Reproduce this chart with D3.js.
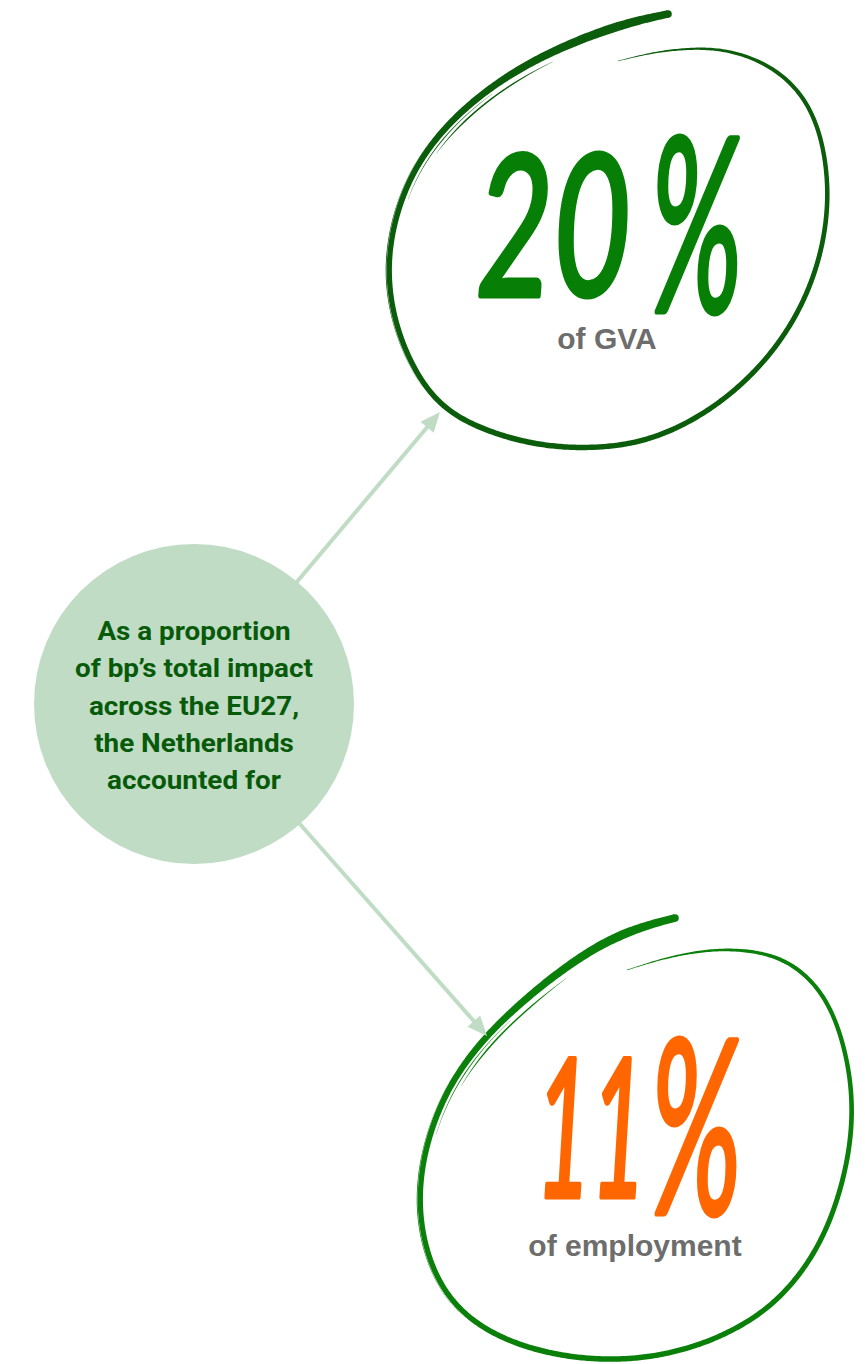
<!DOCTYPE html>
<html><head><meta charset="utf-8">
<script src="https://cdn.jsdelivr.net/npm/d3@7"></script>
<style>html,body{margin:0;padding:0;background:#fff;} svg{display:block}</style>
</head><body>
<svg id="c" width="865" height="1364"></svg>
<script>
// ---- data ----
const shares = [20, 11];
const shareLabels = ["of GVA", "of employment"];
const introLines = ["As a proportion", "of bp\u2019s total impact", "across the EU27,", "the Netherlands", "accounted for"];
const numberColors = ["#077f07", "#ff6600"];
const loopColors = ["#0b5c0b", "#0a7f0a"];

// ---- layout (decoration geometry) ----
const loops = [
  { pts: [[618,61],[650,53],[680,49],[713,48],[747,55],[780,72],[805,98],[820,132],[827,170],[828,208],[822,250],[808,293],[786,334],[755,373],[713,409],[663,436],[613,448],[550,448],[492,434],[442,410],[412,368],[393,318],[387,267],[395,215],[415,166],[446,125],[486,90],[530,62],[580,39],[630,22],[668,14]],
    digits: { x0: 476, x1: 631, top: 155, base: 296 },
    pct: { x0: 650, x1: 743, top: 137, base: 312 },
    label: { x: 607, y: 349 } },
  { pts: [[627,970],[667,957],[717,948],[767,952],[801,969],[827,999],[843,1040],[852,1087],[852,1134],[843,1183],[826,1233],[799,1278],[760,1317],[700,1347],[633,1361],[567,1358],[510,1343],[466,1318],[437,1282],[421,1233],[419,1183],[429,1133],[450,1083],[482,1040],[517,1006],[557,973],[600,944],[640,927],[675,918]],
    digits: { x0: 536, x1: 646, top: 1058, base: 1197 },
    pct: { x0: 650, x1: 742, top: 1039, base: 1214 },
    label: { x: 635, y: 1256 } }
];
const hub = { cx: 194, cy: 704, r: 160 };
const arrowTips = [[440, 412], [487, 1036]];

const svg = d3.select("#c");
const lineGen = d3.line().curve(d3.curveBasis);

function brush(g, pts, color, wScale, range, offset) {
  const tmp = svg.append("path").attr("d", lineGen(pts)).attr("fill", "none");
  const node = tmp.node();
  const L = node.getTotalLength();
  const N = 700;
  const f0 = range ? range[0] : 0, f1 = range ? range[1] : 1;
  const P = d3.range(N + 1).map(i => {
    const f = f0 + (f1 - f0) * i / N;
    const p = node.getPointAtLength(L * f);
    return { x: p.x, y: p.y, f: i / N };
  });
  const cx = d3.mean(pts, d => d[0]), cy = d3.mean(pts, d => d[1]);
  const left = [], right = [];
  P.forEach((p, i) => {
    const a = P[Math.max(0, i - 2)], b = P[Math.min(N, i + 2)];
    let tx = b.x - a.x, ty = b.y - a.y;
    const len = Math.hypot(tx, ty) || 1; tx /= len; ty /= len;
    let nx = -ty, ny = tx;
    if ((cx - p.x) * nx + (cy - p.y) * ny < 0) { nx = -nx; ny = -ny; }
    const off = offset || 0;
    const w = wScale(p.f) / 2;
    const px = p.x + nx * off, py = p.y + ny * off;
    left.push([px + nx * w, py + ny * w]);
    right.push([px - nx * w, py - ny * w]);
  });
  tmp.remove();
  g.append("path")
    .attr("d", d3.line()(left.concat(right.reverse())) + "Z")
    .attr("fill", color);
  return P;
}

const gLoops = svg.append("g");
loops.forEach((lp, i) => {
  const wMain = d3.scaleLinear()
    .domain([0, 0.04, 0.12, 0.3, 0.55, 0.72, 0.86, 0.96, 1])
    .range([0.5, 1.8, 4, 5, 5.6, 5.2, 6.8, 9, 7.5]).clamp(true);
  const P = brush(gLoops, lp.pts, loopColors[i], wMain);
  const end = P[P.length - 1];
  gLoops.append("circle").attr("cx", end.x).attr("cy", end.y).attr("r", 3.8).attr("fill", loopColors[i]);
  const wWisp = d3.scaleLinear().domain([0, 0.3, 0.7, 1]).range([0.2, 1.6, 1.4, 0.2]);
  brush(gLoops, lp.pts, loopColors[i], wWisp, [0.80, 0.91], 9);
  const wWisp2 = d3.scaleLinear().domain([0, 0.5, 1]).range([0.2, 1.0, 0.2]);
  brush(gLoops, lp.pts, loopColors[i], wWisp2, [0.76, 0.86], 5.5);
  // rough outer bristles
  const wB = d3.scaleLinear().domain([0, 0.5, 1]).range([0.1, 0.9, 0.1]);
  brush(gLoops, lp.pts, loopColors[i], wB, [0.62, 0.80], -3.2);
});

// fit a text into a box (cap height 0.72em)
function fitText(str, box, color) {
  const fs = (box.base - box.top) / 0.72;
  const t = svg.append("text")
    .text(str)
    .attr("font-family", "Lato, 'DejaVu Sans', sans-serif")
    .attr("font-style", "italic")
    .attr("font-weight", 400)
    .attr("font-size", fs)
    .attr("text-anchor", "middle")
    .attr("fill", color)
    .attr("stroke", color)
    .attr("stroke-width", 5)
    .attr("stroke-linejoin", "round");
  const w = t.node().getComputedTextLength();
  const sx = (box.x1 - box.x0) / w;
  t.attr("transform", `translate(${(box.x0 + box.x1) / 2},${box.base}) scale(${sx},1)`);
  return t;
}

loops.forEach((lp, i) => {
  fitText(String(shares[i]), lp.digits, numberColors[i]);
  fitText("%", lp.pct, numberColors[i]);
  svg.append("text")
    .text(shareLabels[i])
    .attr("x", lp.label.x).attr("y", lp.label.y)
    .attr("font-family", "'Liberation Sans', Arial, sans-serif")
    .attr("font-weight", 700)
    .attr("font-size", 30)
    .attr("text-anchor", "middle")
    .attr("fill", "#6d6d6d");
});

// arrows
const arrowColor = "#c0dcc4";
const gArr = svg.append("g");
arrowTips.forEach(([tx, ty]) => {
  const dx = tx - hub.cx, dy = ty - hub.cy;
  const len = Math.hypot(dx, dy);
  const ux = dx / len, uy = dy / len;
  const headLen = 20, headW = 8.5;
  const bx = tx - ux * headLen, by = ty - uy * headLen;
  gArr.append("line")
    .attr("x1", hub.cx + ux * (hub.r - 5)).attr("y1", hub.cy + uy * (hub.r - 5))
    .attr("x2", bx + ux * 2).attr("y2", by + uy * 2)
    .attr("stroke", arrowColor).attr("stroke-width", 4);
  const nx = -uy, ny = ux;
  gArr.append("path")
    .attr("d", d3.line()([[tx, ty], [bx + nx * headW, by + ny * headW], [bx - nx * headW, by - ny * headW]]) + "Z")
    .attr("fill", arrowColor);
});

// hub circle
svg.append("circle").attr("cx", hub.cx).attr("cy", hub.cy).attr("r", hub.r).attr("fill", "#c0dcc4");

const baselines = [640, 677, 715, 752, 789];
const gTxt = svg.append("g");
const texts = introLines.map((s, i) => gTxt.append("text")
  .text(s)
  .attr("font-family", "Roboto, 'Liberation Sans', sans-serif")
  .attr("font-weight", 700)
  .attr("font-size", 25.5)
  .attr("text-anchor", "middle")
  .attr("fill", "#085a0b"));
const maxW = d3.max(texts, t => t.node().getComputedTextLength());
const sxT = 238 / maxW;
texts.forEach((t, i) => t.attr("transform", `translate(${hub.cx},${baselines[i]}) scale(${sxT},1)`));
</script>
</body></html>
